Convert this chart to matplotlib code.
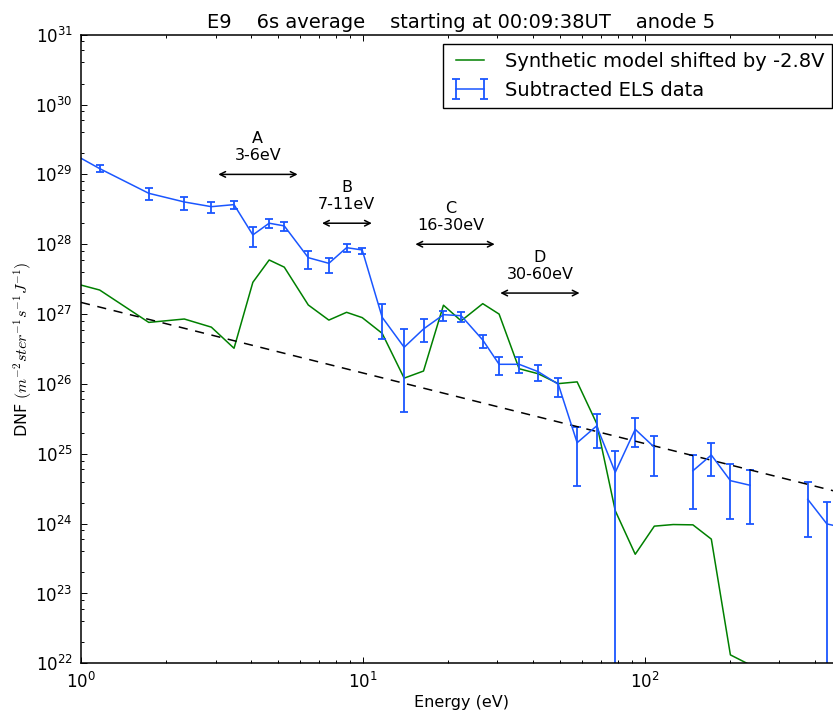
import matplotlib
matplotlib.use("Agg")
import matplotlib.pyplot as plt
from matplotlib.ticker import LogLocator, NullFormatter
import numpy as np

plt.rcParams["mathtext.fontset"] = "cm"

nan = float("nan")

# energy channels (eV)
energy = [0.60, 1.165, 1.74, 2.325, 2.90, 3.49, 4.07, 4.65, 5.26, 6.40, 7.57,
          8.75, 9.94, 11.7, 14.0, 16.4, 19.3, 22.3, 26.6, 30.4, 35.8, 41.8,
          49.3, 57.5, 67.4, 78.5, 92.4, 108, 126, 148, 172, 201, 236, 275, 321,
          378, 442, 517]

# synthetic model
model = [4.5e27, 2.21e27, 7.6e26, 8.5e26, 6.5e26, 3.24e26, 2.85e27, 5.95e27,
         4.7e27, 1.35e27, 8.2e26, 1.06e27, 8.9e26, 5.3e26, 1.21e26, 1.53e26,
         1.34e27, 8.0e26, 1.41e27, 1.0e27, 1.65e26, 1.40e26, 1.01e26, 1.07e26,
         2.73e25, 1.53e24, 3.64e23, 9.2e23, 9.7e23, 9.6e23, 6.0e23, 1.32e22,
         9.5e21, 2.0e21, 1.0e21, 1.0e21, 1.0e21, 1.0e21]

# subtracted ELS data and error bar ends (nan = channel not shown)
data = [5.35e29, 1.21e29, 5.36e28, 4.03e28, 3.45e28, 3.69e28, 1.36e28,
        2.00e28, 1.83e28, 6.42e27, 5.33e27, 8.93e27, 8.28e27, 9.0e26, 3.35e26,
        6.12e26, 9.8e26, 9.48e26, 4.26e26, 1.91e26, 1.91e26, 1.50e26, 9.88e25,
        1.44e25, 2.50e25, 5.43e24, 2.24e25, 1.24e25, nan, 5.71e24, 9.6e24,
        4.12e24, 3.54e24, nan, nan, 2.23e24, 9.9e23, 8.6e23]
data_low = [4.5e29, 1.07e29, 4.26e28, 3.09e28, 2.80e28, 3.16e28, 9.08e27,
            1.71e28, 1.55e28, 4.38e27, 3.87e27, 7.67e27, 7.18e27, 4.36e26,
            3.96e25, 3.99e26, 8.04e26, 7.64e26, 3.24e26, 1.34e26, 1.42e26,
            1.10e26, 6.44e25, 3.46e24, 1.20e25, 0.0, 1.24e25, 4.77e24, nan,
            1.61e24, 4.77e24, 1.15e24, 9.8e23, nan, nan, 6.38e23, 0.0, 3.0e23]
data_high = [6.2e29, 1.38e29, 6.46e28, 4.80e28, 4.07e28, 4.21e28, 1.74e28,
             2.32e28, 2.10e28, 8.08e27, 6.42e27, 1.0e28, 8.93e27, 1.38e27,
             6.06e26, 8.43e26, 1.12e27, 1.08e27, 5.02e26, 2.45e26, 2.41e26,
             1.89e26, 1.23e26, 2.44e25, 3.75e25, 1.09e25, 3.29e25, 1.82e25,
             nan, 9.46e24, 1.44e25, 7.08e24, 5.92e24, nan, nan, 3.91e24,
             2.02e24, 1.5e24]

# power-law reference line (end points)
fit_energy = [1.0, 500.0]
fit_dnf = [1.47e27, 2.75e24]

# energy bands
band_labels = ["A\n3-6eV", "B\n7-11eV", "C\n16-30eV", "D\n30-60eV"]
band_lo = [3, 7, 15, 30]
band_hi = [6, 11, 30, 60]
band_y = [1e29, 2e28, 1e28, 2e27]
band_text_x = [4.24, 8.77, 20.5, 42.4]

blue = "#1a56ff"
green = "#008000"

fig = plt.figure(figsize=(8.33, 7.14), dpi=100)
ax = fig.add_axes([0.0972, 0.0710, 0.9136, 0.8804])
ax.set_xscale("log")
ax.set_yscale("log")

ax.plot(energy, model, color=green, lw=1.1,
        label="Synthetic model shifted by -2.8V")
data = np.array(data)
yerr = [data - np.array(data_low), np.array(data_high) - data]
ax.errorbar(energy, data, yerr=yerr, color=blue, lw=1.1,
            elinewidth=1.3, capsize=3, capthick=1.3,
            label="Subtracted ELS data")
ax.plot(fit_energy, fit_dnf, color="black", lw=1.1, linestyle=(0, (6, 5)))

for lab, lo, hi, yy, tx in zip(band_labels, band_lo, band_hi, band_y, band_text_x):
    ax.annotate("", xy=(lo, yy), xytext=(hi, yy),
                arrowprops=dict(arrowstyle="<->", color="black", lw=1.1))
    ax.annotate(lab, xy=(tx, yy), xytext=(0, 8), textcoords="offset points",
                ha="center", va="bottom", multialignment="center", fontsize=11.5)

ax.set_xlim(1, 500)
ax.set_ylim(1e22, 1e31)

ax.xaxis.set_major_locator(LogLocator(base=10, numticks=20))
ax.xaxis.set_minor_locator(LogLocator(base=10, subs=np.arange(2, 10), numticks=20))
ax.yaxis.set_major_locator(LogLocator(base=10, numticks=20))
ax.yaxis.set_minor_locator(LogLocator(base=10, subs=(2, 4, 6, 8), numticks=20))
ax.xaxis.set_minor_formatter(NullFormatter())
ax.yaxis.set_minor_formatter(NullFormatter())
ax.tick_params(which="both", direction="in", top=True, right=True, labelsize=12)
ax.tick_params(which="major", length=4.5, width=0.7, pad=6)
ax.tick_params(which="minor", length=2.5, width=0.7)
for sp in ax.spines.values():
    sp.set_linewidth(1.1)

ax.set_xlabel("Energy (eV)", fontsize=11.5, labelpad=2)
ax.set_ylabel(r"DNF $(m^{-2}ster^{-1}s^{-1}J^{-1})$", fontsize=11.5, labelpad=1)
ax.set_title("E9    6s average    starting at 00:09:38UT    anode 5",
             fontsize=14, pad=5)

ax.legend(loc="upper right", fontsize=14, numpoints=2, fancybox=False,
          edgecolor="black", framealpha=1, handlelength=2.0,
          handletextpad=0.8, borderaxespad=0.5)

fig.savefig("out.png", dpi=100)
